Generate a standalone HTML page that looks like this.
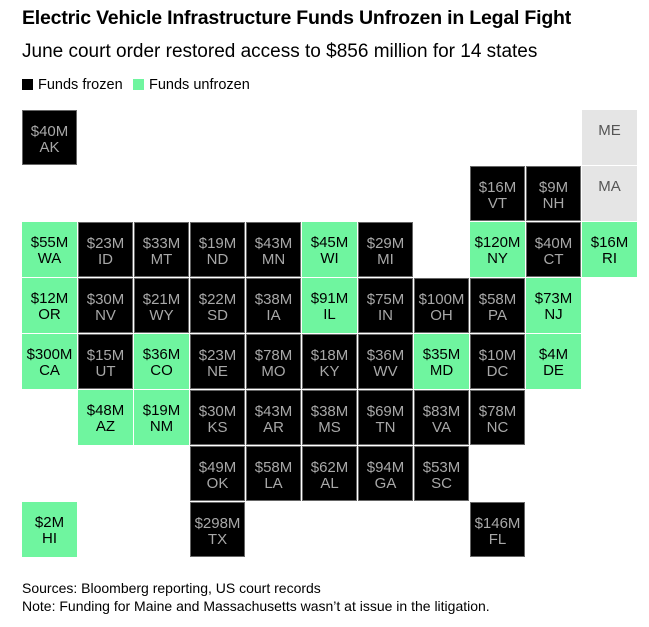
<!DOCTYPE html>
<html><head><meta charset="utf-8"><style>
body{margin:0;width:649px;height:627px;background:#fff;font-family:"Liberation Sans",Arial,sans-serif;position:relative;overflow:hidden}
.t{position:absolute;left:22px;top:7px;font-size:19.5px;font-weight:bold;color:#000;letter-spacing:-0.2px}
.s{position:absolute;left:22px;top:41px;font-size:19px;color:#000}
.l{position:absolute;top:77px;font-size:14.5px;color:#000}
.sw{display:inline-block;width:11px;height:11px;vertical-align:-1px;margin-right:5px}
.c{position:absolute;width:55px;height:55px;box-sizing:border-box;text-align:center;font-size:15px;line-height:16px;padding-top:13px}
.k{background:#000;color:#a8a8a8;border:1px solid #666}
.g{background:#6ff59f;color:#000}
.e{background:#e5e5e5;color:#555;padding-top:12px;line-height:18px}
.f{position:absolute;left:22px;font-size:14px;color:#000}
</style></head><body>
<div class="t">Electric Vehicle Infrastructure Funds Unfrozen in Legal Fight</div>
<div class="s">June court order restored access to $856 million for 14 states</div>
<div class="l" style="left:22px"><span class="sw" style="background:#000"></span>Funds frozen</div>
<div class="l" style="left:133px"><span class="sw" style="background:#6ff59f"></span>Funds unfrozen</div>
<div id="grid"></div>
<div class="f" style="top:580px">Sources: Bloomberg reporting, US court records</div>
<div class="f" style="top:598px">Note: Funding for Maine and Massachusetts wasn’t at issue in the litigation.</div>
<script>
var d=[
[0,0,"AK","$40M",0],[0,10,"ME","",2],
[1,8,"VT","$16M",0],[1,9,"NH","$9M",0],[1,10,"MA","",2],
[2,0,"WA","$55M",1],[2,1,"ID","$23M",0],[2,2,"MT","$33M",0],[2,3,"ND","$19M",0],[2,4,"MN","$43M",0],[2,5,"WI","$45M",1],[2,6,"MI","$29M",0],[2,8,"NY","$120M",1],[2,9,"CT","$40M",0],[2,10,"RI","$16M",1],
[3,0,"OR","$12M",1],[3,1,"NV","$30M",0],[3,2,"WY","$21M",0],[3,3,"SD","$22M",0],[3,4,"IA","$38M",0],[3,5,"IL","$91M",1],[3,6,"IN","$75M",0],[3,7,"OH","$100M",0],[3,8,"PA","$58M",0],[3,9,"NJ","$73M",1],
[4,0,"CA","$300M",1],[4,1,"UT","$15M",0],[4,2,"CO","$36M",1],[4,3,"NE","$23M",0],[4,4,"MO","$78M",0],[4,5,"KY","$18M",0],[4,6,"WV","$36M",0],[4,7,"MD","$35M",1],[4,8,"DC","$10M",0],[4,9,"DE","$4M",1],
[5,1,"AZ","$48M",1],[5,2,"NM","$19M",1],[5,3,"KS","$30M",0],[5,4,"AR","$43M",0],[5,5,"MS","$38M",0],[5,6,"TN","$69M",0],[5,7,"VA","$83M",0],[5,8,"NC","$78M",0],
[6,3,"OK","$49M",0],[6,4,"LA","$58M",0],[6,5,"AL","$62M",0],[6,6,"GA","$94M",0],[6,7,"SC","$53M",0],
[7,0,"HI","$2M",1],[7,3,"TX","$298M",0],[7,8,"FL","$146M",0]];
var h="";d.forEach(function(x){var cl=["k","g","e"][x[4]];
h+='<div class="c '+cl+'" style="left:'+(22+56*x[1])+'px;top:'+(110+56*x[0])+'px">'+(x[3]?x[3]+'<br>':'')+x[2]+'</div>';});
document.getElementById("grid").innerHTML=h;
</script>
</body></html>
